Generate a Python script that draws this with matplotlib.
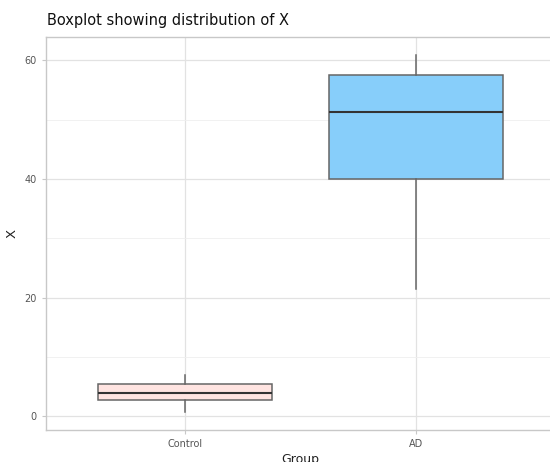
import matplotlib
matplotlib.use("Agg")
import matplotlib.pyplot as plt

# values
groups = ["Control", "AD"]
whislo = [0.8, 21.4]
q1 = [2.7, 40.0]
med = [4.0, 51.3]
q3 = [5.4, 57.5]
whishi = [6.9, 60.9]
fills = ["#FFE4E1", "#87CEFA"]

fig = plt.figure(figsize=(5.5, 4.62), dpi=100)
# panel is cropped on the right in the reference
ax = fig.add_axes([46 / 550, 32 / 462, 509 / 550, 393 / 462])

stats = []
for i, g in enumerate(groups):
    stats.append({"label": g, "whislo": whislo[i], "q1": q1[i], "med": med[i],
                  "q3": q3[i], "whishi": whishi[i], "fliers": []})

bp = ax.bxp(stats, positions=[1, 2], widths=0.75, patch_artist=True,
            showcaps=False,
            boxprops=dict(edgecolor="#666666", linewidth=1.1),
            whiskerprops=dict(color="#666666", linewidth=1.1),
            medianprops=dict(color="#333333", linewidth=1.5))
for patch, c in zip(bp["boxes"], fills):
    patch.set_facecolor(c)

ax.set_xlim(0.4, 2.6)
ax.set_ylim(-2.3, 63.9)
ax.set_yticks([0, 20, 40, 60])
ax.set_yticks([10, 30, 50], minor=True)
ax.grid(True, which="major", color="#E2E2E2", linewidth=0.9)
ax.grid(True, which="minor", axis="y", color="#EFEFEF", linewidth=0.6)
ax.set_axisbelow(True)
for s in ax.spines.values():
    s.set_color("#C8C8C8")
    s.set_linewidth(1.0)
ax.tick_params(axis="both", which="major", colors="#C8C8C8", labelcolor="#555555",
               labelsize=7, length=3)
ax.tick_params(axis="y", which="minor", length=0)

ax.set_xlabel("Group", fontsize=9, color="#222222", labelpad=3)
ax.set_ylabel("X", fontsize=9.5, color="#222222", labelpad=4)
fig.text(47 / 550, 1 - 20 / 462, "Boxplot showing distribution of X",
         fontsize=10.5, color="#111111", va="center", ha="left")

fig.savefig("out.png", dpi=100)
